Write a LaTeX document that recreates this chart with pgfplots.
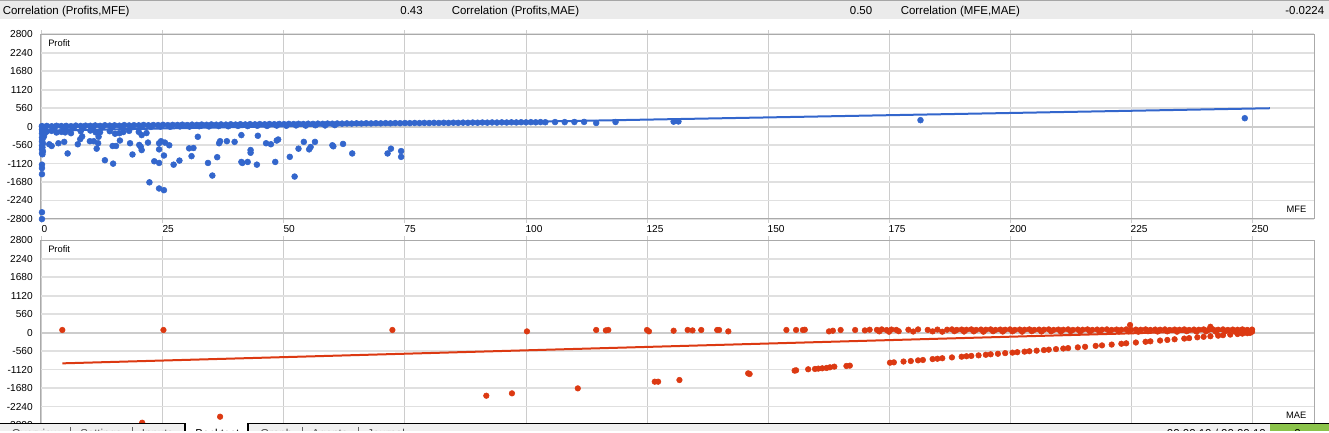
\documentclass[border=0pt]{standalone}
\usepackage{pgfplots}
\pgfplotsset{compat=1.18}
\usepackage{fontspec}
\setmainfont{Liberation Sans}
\definecolor{gblue}{RGB}{51,102,204}
\definecolor{gred}{RGB}{220,57,18}
\definecolor{hdrbg}{RGB}{235,235,235}
\definecolor{hgrid}{RGB}{224,224,224}
\definecolor{vgrid}{RGB}{204,204,204}
\definecolor{zeroc}{RGB}{204,204,204}
\definecolor{boxc}{RGB}{170,170,170}
\definecolor{tabbg}{RGB}{240,240,240}
\definecolor{okgreen}{RGB}{139,195,74}
\pgfplotsset{
  chartaxis/.style={
    scale only axis, width=954.75pt, height=138.45pt,
    xmin=-0.2, xmax=262.8, ymin=-2800, ymax=2800,
    axis line style={draw=boxc, line width=0.75pt},
    xtick={0,25,50,75,100,125,150,175,200,225,250},
    ytick={-2800,-2240,-1680,-1120,-560,0,560,1120,1680,2240,2800},
    yticklabels={-2800,-2240,-1680,-1120,-560,0,560,1120,1680,2240,2800},
    grid=major,
    major x grid style={draw=vgrid, line width=0.75pt},
    major y grid style={draw=hgrid, line width=1.3pt},
    tick align=outside, major tick length=3pt,
    xtick style={draw=vgrid, line width=0.75pt},
    ytick style={draw=none},
    yticklabel style={font=\fontsize{7.6}{8}\selectfont, anchor=east, inner sep=0pt, xshift=-3pt},
    xticklabel style={font=\fontsize{7.6}{8}\selectfont, anchor=north west, inner sep=0pt, xshift=-0.5pt, yshift=-1.5pt},
    clip=false,
  },
}
\begin{document}
\begin{tikzpicture}
\begin{scope}[x=0.75pt,y=-0.75pt]
  \path[use as bounding box, fill=white] (0,0) rectangle (1329,431);
  \fill[hdrbg] (0,1) rectangle (1329,19.5);
  \draw[gray!70, line width=0.75pt] (0,0.5) -- (1329,0.5);
  \begin{scope}[every node/.style={font=\fontsize{8.6}{10}\selectfont, inner sep=0pt}]
    \node[anchor=base west] at (2.5,15) {Correlation (Profits,MFE)};
    \node[anchor=base east] at (423,15) {0.43};
    \node[anchor=base west] at (451.5,15) {Correlation (Profits,MAE)};
    \node[anchor=base east] at (872.5,15) {0.50};
    \node[anchor=base west] at (900.5,15) {Correlation (MFE,MAE)};
    \node[anchor=base east] at (1324.5,15) {-0.0224};
  \end{scope}
\end{scope}

% ---------------- Top: Profit vs MFE ----------------
\begin{axis}[chartaxis, at={(30.75pt,-25.725pt)}, anchor=north west,
  xticklabels={0,25,50,75,100,125,150,175,200,225,250}]
\addplot[draw=zeroc, line width=1.5pt, forget plot] coordinates {(-0.2,0) (262.8,0)};
% dense band
\addplot[only marks, mark=*, mark size=2.2pt, color=gblue] coordinates {
(0,15)(1,20)(2,10)(3,25)(4,18)(5,22)(6,12)(7,30)(8,20)(9,28)(10,25)(11,35)(12,22)(13,40)(14,30)(15,38)(16,28)(17,45)(18,35)(19,42)(20,38)(21,50)(22,40)(23,48)(24,44)(25,55)(26,45)(27,52)(28,50)(29,58)(30,48)(31,60)(32,52)(33,62)(34,55)(35,65)(36,58)(37,66)(38,60)(39,70)(40,62)(41,72)(42,65)(43,74)(44,68)(45,76)(46,70)(47,78)(48,72)(49,80)(50,75)(51,82)(52,78)(53,85)(54,80)(55,88)(56,82)(57,90)(58,85)(59,92)(60,88)(61,94)(62,90)(63,96)(64,92)(65,98)(66,94)(67,100)(68,96)(69,102)(70,98)(71,104)(72,100)(73,106)(74,102)(75,108)(76,104)(77,110)(78,106)(79,112)(80,108)(81,114)(82,110)(83,116)(84,112)(85,118)(86,114)(87,120)(88,116)(89,122)(90,118)(91,124)(92,120)(93,126)(94,122)(95,128)(96,124)(97,130)(98,126)(99,132)(100,128)(101,134)(102,130)(103,136)(104,132)(106,138)(108,136)(110,140)(112,142)
(0.5,-60)(2.5,-50)(4.5,-40)(6.5,-45)(8.5,-30)(10.5,-35)(12.5,-20)(14.5,-25)(16.5,-10)(18.5,-15)(20.5,-5)(22.5,-10)(24.5,0)(26.5,-5)(28.5,5)(30.5,0)(32.5,10)(34.5,5)(36.5,15)(38.5,10)(40.5,20)(42.5,15)(44.5,25)(46.5,20)(48.5,30)(50.5,25)(52.5,35)(54.5,30)(56.5,40)(58.5,35)(60.5,45)
(1,-150)(2,-130)(3,-180)(4,-160)(5,-110)(6,-200)(8,-140)(10,-120)(12,-170)(14,-140)(16,-200)(18,-130)(20,-160)
(0,0)(0.2,-40)(0,-90)(0.1,-150)(0,-210)(0.2,-270)(0,-330)(0.1,-390)(0,-450)(0.2,-510)(0,-570)(0.1,-630)(0,-690)(0.2,-750)(0,-810)(0.1,-840)(0.5,-120)(0.4,-300)(0.6,-200)
(0,-1155)(0,-1258)(0,-1443)(0,-2599)(0,-2805)
(114.5,109)(118.5,140)(130.5,150)(131.5,155)(181.5,195)(248.5,255)
(1.5,-536)(2.0,-588)(3.4,-505)(4.6,-464)(4.8,-175)(5.3,-815)(7.4,-536)(7.9,-382)(8.3,-299)(9.9,-443)(10.7,-443)(11.1,-175)(11.3,-670)(11.6,-505)(11.7,-309)(13.0,-1021)(14.6,-588)(14.7,-1124)(15.1,-216)(15.3,-588)(16.1,-423)(16.8,-165)(18.2,-505)(18.7,-846)(20.1,-557)(20.4,-608)(20.6,-712)(20.6,-258)(21.6,-196)(21.9,-485)(22.2,-1691)(23.2,-1052)(24.2,-1103)(24.2,-691)(24.2,-505)(24.6,-443)(24.2,-1877)(25.2,-1928)(25.2,-877)(25.4,-485)(26.3,-567)(27.2,-1155)(28.4,-1031)(30.4,-660)(30.9,-897)(31.3,-650)(32.2,-309)(34.3,-1103)(35.2,-1485)(36.2,-928)(36.6,-505)(36.8,-443)(38.2,-443)(39.8,-464)(41.2,-258)(41.2,-1072)(41.4,-1103)(42.5,-1072)(43.1,-712)(43.1,-794)(44.4,-1155)(44.6,-278)(46.3,-505)(47.3,-536)(48.2,-1072)(48.5,-423)(48.8,-392)(51.2,-918)(52.2,-1516)(53.0,-670)(54.1,-464)(55.2,-691)(55.5,-619)(56.4,-464)(60.0,-567)(60.2,-598)(62.2,-526)(64.1,-815)(71.4,-815)(72.1,-670)(74.2,-743)(74.2,-918)
};
\addplot[gblue, line width=1.5pt] coordinates {(0,-124) (253.7,557)};
\node[anchor=north west, inner sep=0pt, font=\fontsize{7}{8}\selectfont] at (rel axis cs:0,1) [xshift=5.25pt, yshift=-4pt] {Profit};
\node[anchor=base east, inner sep=0pt, font=\fontsize{7}{8}\selectfont] at (rel axis cs:1,0) [xshift=-5.5pt, yshift=4.5pt] {MFE};
\end{axis}

% ---------------- Bottom: Profit vs MAE ----------------
\begin{axis}[chartaxis, at={(30.75pt,-180.3pt)}, anchor=north west, xticklabels={}]
\addplot[draw=zeroc, line width=1.5pt, forget plot] coordinates {(-0.2,0) (262.8,0)};
\addplot[only marks, mark=*, mark size=2.1pt, color=gred] coordinates {
(4.2,82)(25.1,82)(72.4,82)(100.2,40)(91.8,-1912)(97.1,-1840)(110.7,-1689)(114.5,82)(116.5,70)(117,82)(125,82)(125.4,40)(126.6,-1487)(127.3,-1487)(130.5,60)(131.7,-1436)(133.4,82)(134.4,70)(136.2,82)(139.5,82)(139.9,82)(141.8,40)(145.9,-1233)(146.2,-1253)(153.8,82)(155.8,82)(157.2,82)(157.6,90)(162.6,40)(163.4,60)(165,82)(155.5,-1151)(155.8,-1141)(158.3,-1110)(159.7,-1100)(160.4,-1090)(161.2,-1080)(162.1,-1070)(162.8,-1050)(163.7,-1030)(166.2,-1010)(166.9,-1000)(20.7,-2731)(36.8,-2549)
(168,82)(170,70)(171,90)
(172.5,85)(173.5,100)(174.5,80)(175.5,95)(176.5,85)(179,90)(181,100)(183,85)(185,95)(187,90)(188,100)(189,85)(190,95)(191,90)(192,100)(193,85)(194,95)(195,90)(196,100)(197,85)(198,95)(199,90)(200,100)(201,85)(202,95)(203,90)(204,100)(205,85)(206,95)(207,90)(208,100)(209,85)(210,95)(211,90)(212,100)(213,85)(214,95)(215,90)(216,100)(217,85)(218,95)(219,90)(220,100)(221,85)(222,95)(223,90)(224,100)(225,85)(226,95)(227,90)(228,100)(229,85)(230,95)(231,90)(232,100)(233,85)(234,95)(235,90)(236,100)(237,85)(238,95)(239,90)(240,100)(241,85)(242,95)(243,90)(244,100)(245,85)(246,95)(247,90)(248,100)(249,85)(250,95)
(173,40)(175,30)(177,45)(180,35)(184,40)(186,30)(188.5,45)(190.5,35)(192.5,40)(194.5,30)(196.5,45)(198.5,35)(200.5,40)(202.5,30)(204.5,45)(206.5,35)(208.5,40)(210.5,30)(212.5,45)(214.5,35)(216.5,40)(218.5,30)(220.5,45)(222.5,35)(224.5,40)(226.5,30)(228.5,45)(230.5,35)(232.5,40)(234.5,30)(236.5,45)(238.5,35)(240.5,40)(242.5,30)(244.5,45)(246.5,35)(248.5,40)(250,30)
(224.8,233)(241.4,180)
(175.2,-910)(176,-900)(178,-875)(179.5,-860)(181,-840)(182,-828)(184,-800)(185,-790)(186,-775)(188,-750)(190,-728)(191,-715)(192,-705)(193.5,-688)(195,-670)(196,-655)(197.5,-640)(199,-620)(200.5,-605)(201.5,-592)(203,-575)(204,-562)(205.5,-545)(207,-528)(208,-515)(209.5,-498)(211,-480)(212,-468)(214,-445)(215.5,-428)(217.7,-400)(219,-385)(221,-360)(223,-335)(224,-322)(226,-298)(228,-275)(229,-262)(231,-238)(232.5,-220)(234,-200)(236,-178)(237,-165)(238.7,-140)(240,-125)(241.4,-108)(243,-90)(244,-75)(245.5,-58)(247,-40)(248,-28)(249,-15)(249.6,-5)
};
\addplot[gred, line width=1.5pt] coordinates {(4.2,-930) (250,84)};
\node[anchor=north west, inner sep=0pt, font=\fontsize{7}{8}\selectfont] at (rel axis cs:0,1) [xshift=5.25pt, yshift=-4pt] {Profit};
\node[anchor=base east, inner sep=0pt, font=\fontsize{7}{8}\selectfont] at (rel axis cs:1,0) [xshift=-5.5pt, yshift=4.5pt] {MAE};
\end{axis}

% ---------------- Tab bar ----------------
\begin{scope}[x=0.75pt,y=-0.75pt]
  \clip (0,0) rectangle (1329,431);
  \fill[tabbg] (0,423) rectangle (1329,432);
  \fill[white] (185,423) rectangle (248,432);
  \draw[black, line width=0.9pt] (0,423.5) -- (185,423.5) -- (185,432);
  \draw[black, line width=0.9pt] (248,432) -- (248,423.5) -- (1329,423.5);
  \draw[gray!80!black, line width=0.75pt] (70,427) -- (70,432);
  \draw[gray!80!black, line width=0.75pt] (132,427) -- (132,432);
  \draw[gray!80!black, line width=0.75pt] (302,427) -- (302,432);
  \draw[gray!80!black, line width=0.75pt] (358,427) -- (358,432);
  \fill[okgreen] (1270,424) rectangle (1329,432);
  \begin{scope}[every node/.style={font=\fontsize{8.6}{10}\selectfont, inner sep=0pt, anchor=base west}]
    \node[text=black!70] at (11.7,437) {Overview};
    \node[text=black!70] at (80,437) {Settings};
    \node[text=black!70] at (141.7,437) {Inputs};
    \node[text=black] at (195,437) {Backtest};
    \node[text=black!70] at (260,437) {Graph};
    \node[text=black!70] at (311.7,437) {Agents};
    \node[text=black!70] at (367,437) {Journal};
    \node[text=black] at (1166.7,437) {00:00:10 / 00:00:10};
    \node[text=black] at (1294,437) {0};
  \end{scope}
\end{scope}
\end{tikzpicture}
\end{document}
